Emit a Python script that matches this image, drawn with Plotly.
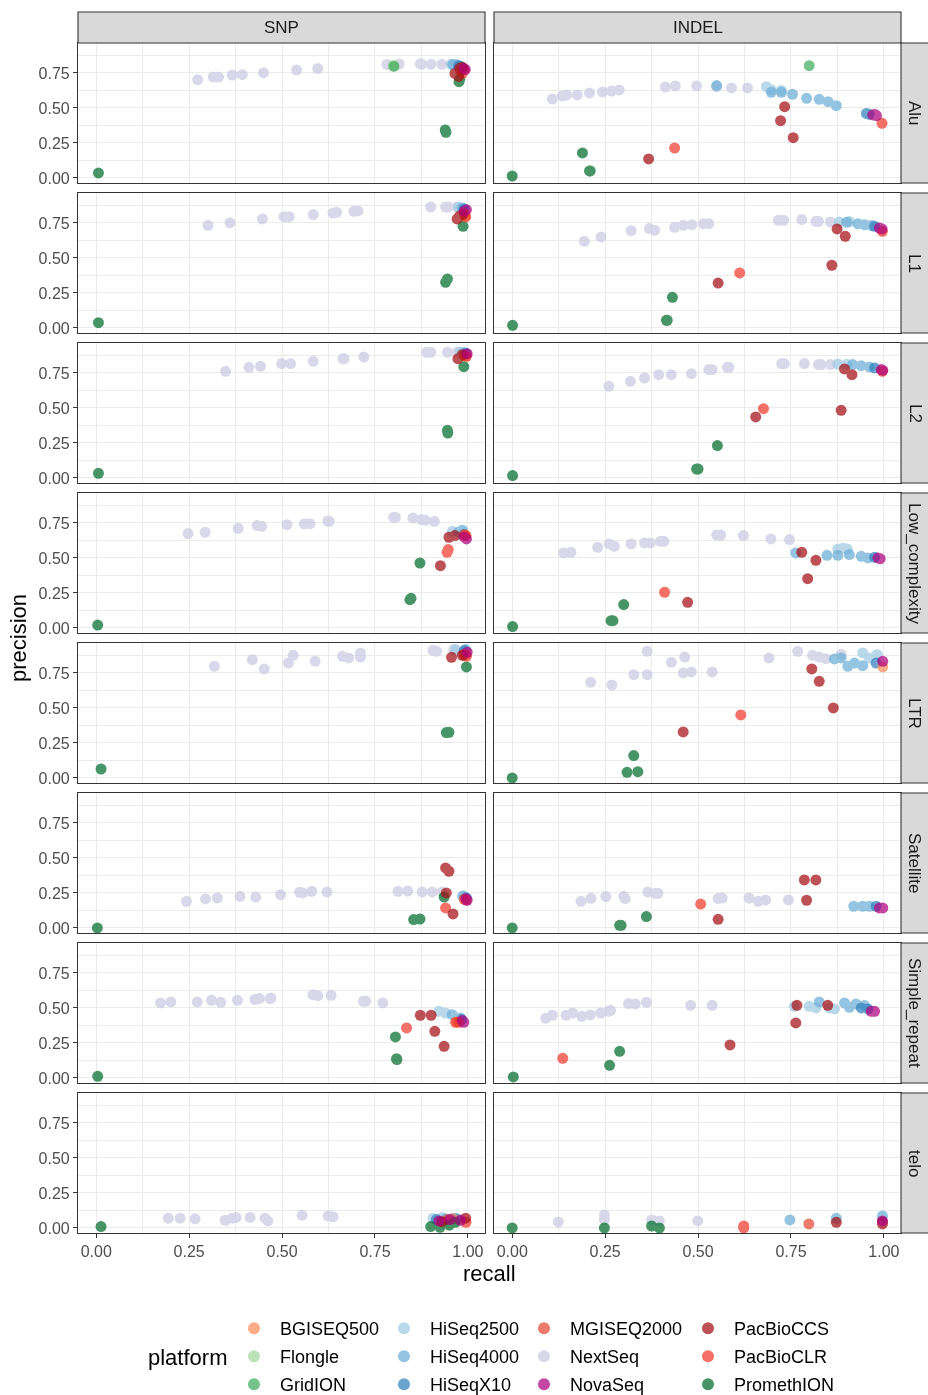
import plotly.graph_objects as go

# ---------------- data ----------------
TYPES = ["SNP", "INDEL"]
REGIONS = ["Alu", "L1", "L2", "Low_complexity", "LTR", "Satellite", "Simple_repeat", "telo"]
PLATFORMS = ["BGISEQ500", "Flongle", "GridION", "HiSeq2500", "HiSeq4000", "HiSeqX10",
             "MGISEQ2000", "NextSeq", "NovaSeq", "PacBioCCS", "PacBioCLR", "PromethION"]
COLORS = {
    "BGISEQ500": "#FC8D59", "Flongle": "#A1D99B", "GridION": "#41AB5D",
    "HiSeq2500": "#9ECAE1", "HiSeq4000": "#6BAED6", "HiSeqX10": "#3182BD",
    "MGISEQ2000": "#E34A33", "NextSeq": "#CBC9E2", "NovaSeq": "#AE017E",
    "PacBioCCS": "#A50F15", "PacBioCLR": "#EF3B2C", "PromethION": "#006D2C",
}
DRAW_ORDER = ["NextSeq", "HiSeq2500", "HiSeq4000", "HiSeqX10", "BGISEQ500", "MGISEQ2000",
              "Flongle", "GridION", "PromethION", "PacBioCLR", "PacBioCCS", "NovaSeq"]
TICK_VALS = [0, 0.25, 0.5, 0.75, 1.0]
TICK_TEXT = ["0.00", "0.25", "0.50", "0.75", "1.00"]

# each facet: platform -> (recall, precision)
SNP_ALU = {
    "NextSeq": ([0.273, 0.315, 0.329, 0.366, 0.393, 0.450, 0.539, 0.596, 0.782, 0.815, 0.872, 0.876, 0.901, 0.930],
                [0.702, 0.721, 0.721, 0.735, 0.738, 0.752, 0.771, 0.781, 0.811, 0.814, 0.815, 0.813, 0.812, 0.812]),
    "Flongle": ([0.800], [0.805]),
    "GridION": ([0.801], [0.797]),
    "PromethION": ([0.006, 0.939, 0.941, 0.976, 0.978], [0.036, 0.343, 0.326, 0.688, 0.705]),
    "HiSeq2500": ([0.955, 0.965, 0.972], [0.812, 0.810, 0.808]),
    "HiSeq4000": ([0.960, 0.970, 0.978], [0.810, 0.806, 0.800]),
    "HiSeqX10": ([0.975, 0.982], [0.800, 0.795]),
    "BGISEQ500": ([0.985], [0.770]),
    "MGISEQ2000": ([0.980, 0.988], [0.765, 0.775]),
    "PacBioCCS": ([0.965, 0.978, 0.985, 0.975], [0.747, 0.785, 0.790, 0.725]),
    "PacBioCLR": ([0.985, 0.990], [0.748, 0.770]),
    "NovaSeq": ([0.990, 0.993], [0.780, 0.775]),
}
SNP_L1 = {
    "NextSeq": ([0.301, 0.360, 0.447, 0.505, 0.519, 0.584, 0.637, 0.647, 0.693, 0.704, 0.900, 0.940, 0.947, 0.971],
                [0.733, 0.752, 0.779, 0.795, 0.795, 0.810, 0.821, 0.826, 0.833, 0.836, 0.864, 0.864, 0.864, 0.864]),
    "PromethION": ([0.006, 0.940, 0.945, 0.987], [0.038, 0.326, 0.350, 0.726]),
    "HiSeq2500": ([0.975], [0.862]),
    "HiSeq4000": ([0.985], [0.857]),
    "HiSeqX10": ([0.990], [0.850]),
    "MGISEQ2000": ([0.990], [0.820]),
    "BGISEQ500": ([0.993], [0.800]),
    "PacBioCCS": ([0.971, 0.985, 0.978], [0.779, 0.810, 0.800]),
    "PacBioCLR": ([0.994], [0.793]),
    "NovaSeq": ([0.996, 0.990], [0.845, 0.835]),
}
SNP_L2 = {
    "NextSeq": ([0.348, 0.411, 0.442, 0.499, 0.523, 0.584, 0.664, 0.667, 0.720, 0.889, 0.900, 0.945, 0.971],
                [0.762, 0.790, 0.798, 0.817, 0.817, 0.833, 0.852, 0.852, 0.864, 0.898, 0.898, 0.898, 0.898]),
    "PromethION": ([0.006, 0.945, 0.946, 0.989], [0.033, 0.340, 0.321, 0.795]),
    "HiSeq2500": ([0.980], [0.900]),
    "HiSeq4000": ([0.990], [0.895]),
    "HiSeqX10": ([0.995], [0.890]),
    "MGISEQ2000": ([0.990], [0.875]),
    "BGISEQ500": ([0.995], [0.870]),
    "PacBioCCS": ([0.973, 0.985], [0.852, 0.880]),
    "PacBioCLR": ([0.996], [0.869]),
    "NovaSeq": ([0.998], [0.888]),
}
SNP_LOW = {
    "NextSeq": ([0.247, 0.293, 0.382, 0.433, 0.445, 0.513, 0.560, 0.575, 0.623, 0.627, 0.800, 0.805, 0.852, 0.875, 0.886, 0.910],
                [0.674, 0.683, 0.712, 0.731, 0.726, 0.738, 0.743, 0.745, 0.764, 0.762, 0.790, 0.790, 0.786, 0.774, 0.769, 0.762]),
    "HiSeq2500": ([0.958], [0.690]),
    "HiSeq4000": ([0.975, 0.985], [0.686, 0.698]),
    "HiSeqX10": ([0.990], [0.670]),
    "MGISEQ2000": ([0.990], [0.665]),
    "BGISEQ500": ([0.995], [0.660]),
    "PromethION": ([0.004, 0.844, 0.847, 0.871], [0.021, 0.202, 0.212, 0.464]),
    "PacBioCLR": ([0.944, 0.947, 0.994], [0.540, 0.560, 0.660]),
    "PacBioCCS": ([0.949, 0.965, 0.926], [0.648, 0.660, 0.445]),
    "NovaSeq": ([0.996, 0.990], [0.636, 0.650]),
}
SNP_LTR = {
    "NextSeq": ([0.318, 0.420, 0.452, 0.517, 0.530, 0.589, 0.663, 0.679, 0.711, 0.711, 0.906, 0.916, 0.962],
                [0.798, 0.845, 0.779, 0.821, 0.876, 0.833, 0.869, 0.857, 0.893, 0.864, 0.912, 0.905, 0.917]),
    "HiSeq2500": ([0.967], [0.917]),
    "HiSeq4000": ([0.994], [0.917]),
    "HiSeqX10": ([0.990], [0.910]),
    "MGISEQ2000": ([0.990], [0.880]),
    "BGISEQ500": ([0.995], [0.885]),
    "PromethION": ([0.013, 0.942, 0.949, 0.996], [0.064, 0.324, 0.326, 0.793]),
    "PacBioCLR": ([0.996], [0.869]),
    "PacBioCCS": ([0.956, 0.985], [0.862, 0.876]),
    "NovaSeq": ([0.998], [0.898]),
}
SNP_SAT = {
    "NextSeq": ([0.243, 0.294, 0.326, 0.387, 0.429, 0.496, 0.547, 0.556, 0.580, 0.621, 0.812, 0.838, 0.877, 0.904, 0.931],
                [0.190, 0.207, 0.214, 0.226, 0.221, 0.238, 0.255, 0.250, 0.262, 0.257, 0.262, 0.264, 0.257, 0.257, 0.257]),
    "HiSeq2500": ([0.985], [0.230]),
    "HiSeq4000": ([0.989], [0.226]),
    "HiSeqX10": ([0.996], [0.214]),
    "MGISEQ2000": ([0.990], [0.205]),
    "PromethION": ([0.003, 0.854, 0.871, 0.936], [0.000, 0.060, 0.064, 0.221]),
    "PacBioCLR": ([0.940, 0.995], [0.143, 0.200]),
    "PacBioCCS": ([0.940, 0.949, 0.942, 0.960], [0.429, 0.405, 0.250, 0.100]),
    "NovaSeq": ([0.998, 0.995], [0.198, 0.210]),
}
SNP_SR = {
    "NextSeq": ([0.173, 0.201, 0.272, 0.310, 0.335, 0.380, 0.427, 0.439, 0.468, 0.470, 0.583, 0.596, 0.632, 0.719, 0.725, 0.771],
                [0.536, 0.543, 0.543, 0.555, 0.540, 0.555, 0.560, 0.567, 0.567, 0.571, 0.595, 0.588, 0.590, 0.548, 0.548, 0.536]),
    "HiSeq2500": ([0.922, 0.940], [0.476, 0.464]),
    "HiSeq4000": ([0.958, 0.980], [0.452, 0.429]),
    "HiSeqX10": ([0.983], [0.417]),
    "BGISEQ500": ([0.970], [0.400]),
    "MGISEQ2000": ([0.976], [0.398]),
    "PromethION": ([0.004, 0.805, 0.808, 0.809], [0.012, 0.293, 0.138, 0.131]),
    "PacBioCLR": ([0.835, 0.967], [0.357, 0.398]),
    "PacBioCCS": ([0.872, 0.901, 0.911, 0.936], [0.448, 0.448, 0.333, 0.226]),
    "NovaSeq": ([0.989, 0.985], [0.398, 0.410]),
}
SNP_TELO = {
    "NextSeq": ([0.194, 0.226, 0.266, 0.347, 0.366, 0.376, 0.414, 0.454, 0.462, 0.554, 0.624, 0.637],
                [0.070, 0.070, 0.065, 0.055, 0.070, 0.075, 0.075, 0.070, 0.050, 0.090, 0.085, 0.080]),
    "HiSeq2500": ([0.906, 0.930], [0.070, 0.075]),
    "HiSeq4000": ([0.940, 0.960], [0.065, 0.070]),
    "HiSeqX10": ([0.915, 0.970], [0.060, 0.065]),
    "BGISEQ500": ([0.960], [0.065]),
    "MGISEQ2000": ([0.945], [0.060]),
    "PromethION": ([0.013, 0.900, 0.925, 0.966, 0.950], [0.010, 0.010, 0.005, 0.040, 0.020]),
    "PacBioCLR": ([0.995], [0.040]),
    "PacBioCCS": ([0.994, 0.930], [0.070, 0.045]),
    "NovaSeq": ([0.922, 0.952, 0.980], [0.050, 0.060, 0.055]),
}
INDEL_ALU = {
    "NextSeq": ([0.108, 0.135, 0.146, 0.175, 0.208, 0.243, 0.267, 0.288, 0.412, 0.439, 0.496, 0.550, 0.590, 0.633],
                [0.564, 0.586, 0.593, 0.593, 0.607, 0.614, 0.621, 0.629, 0.650, 0.657, 0.657, 0.650, 0.643, 0.643]),
    "HiSeq2500": ([0.684, 0.697, 0.724], [0.652, 0.630, 0.625]),
    "HiSeq4000": ([0.550, 0.697, 0.724, 0.754, 0.792, 0.826, 0.850, 0.872], [0.660, 0.612, 0.612, 0.598, 0.569, 0.562, 0.545, 0.516]),
    "HiSeqX10": ([0.953, 0.960], [0.461, 0.455]),
    "GridION": ([0.799], [0.802]),
    "PromethION": ([0.000, 0.189, 0.208, 0.210], [0.014, 0.179, 0.050, 0.050]),
    "PacBioCLR": ([0.437, 0.995], [0.214, 0.390]),
    "PacBioCCS": ([0.733, 0.722, 0.756, 0.367], [0.509, 0.409, 0.288, 0.136]),
    "NovaSeq": ([0.976, 0.970, 0.980], [0.454, 0.450, 0.445]),
}
INDEL_L1 = {
    "NextSeq": ([0.194, 0.239, 0.320, 0.369, 0.383, 0.437, 0.460, 0.483, 0.514, 0.529, 0.716, 0.730, 0.779, 0.817, 0.824, 0.856],
                [0.619, 0.650, 0.695, 0.710, 0.698, 0.719, 0.733, 0.738, 0.745, 0.745, 0.769, 0.769, 0.774, 0.762, 0.762, 0.757]),
    "HiSeq2500": ([0.880, 0.907], [0.757, 0.760]),
    "HiSeq4000": ([0.900, 0.930, 0.948, 0.966], [0.755, 0.745, 0.738, 0.731]),
    "HiSeqX10": ([0.975], [0.726]),
    "PromethION": ([0.001, 0.431, 0.415, 0.417], [0.019, 0.219, 0.055, 0.055]),
    "PacBioCLR": ([0.996, 0.612], [0.690, 0.393]),
    "PacBioCCS": ([0.874, 0.896, 0.860, 0.554], [0.707, 0.655, 0.448, 0.321]),
    "NovaSeq": ([0.988, 0.995], [0.714, 0.707]),
}
INDEL_L2 = {
    "NextSeq": ([0.260, 0.318, 0.356, 0.394, 0.428, 0.482, 0.529, 0.538, 0.579, 0.583, 0.725, 0.732, 0.786, 0.824, 0.831, 0.856],
                [0.655, 0.690, 0.714, 0.738, 0.738, 0.745, 0.774, 0.774, 0.790, 0.790, 0.817, 0.817, 0.817, 0.810, 0.810, 0.810]),
    "HiSeq2500": ([0.876, 0.900], [0.814, 0.812]),
    "HiSeq4000": ([0.916, 0.939, 0.961], [0.810, 0.802, 0.793]),
    "HiSeqX10": ([0.975], [0.786]),
    "PromethION": ([0.001, 0.552, 0.496, 0.500], [0.017, 0.231, 0.064, 0.064]),
    "PacBioCLR": ([0.676, 0.996], [0.495, 0.762]),
    "PacBioCCS": ([0.894, 0.914, 0.885, 0.655], [0.779, 0.738, 0.483, 0.436]),
    "NovaSeq": ([0.993, 0.997], [0.774, 0.770]),
}
INDEL_LOW = {
    "NextSeq": ([0.138, 0.158, 0.230, 0.261, 0.275, 0.320, 0.356, 0.372, 0.399, 0.408, 0.550, 0.561, 0.622, 0.696, 0.746],
                [0.536, 0.540, 0.576, 0.600, 0.583, 0.600, 0.607, 0.607, 0.619, 0.619, 0.664, 0.664, 0.660, 0.636, 0.631]),
    "HiSeq2500": ([0.876, 0.901, 0.890], [0.564, 0.564, 0.570]),
    "HiSeq4000": ([0.763, 0.847, 0.876, 0.907, 0.939, 0.957], [0.536, 0.519, 0.519, 0.524, 0.512, 0.500]),
    "HiSeqX10": ([0.975], [0.505]),
    "PromethION": ([0.001, 0.300, 0.266, 0.271], [0.010, 0.167, 0.052, 0.052]),
    "PacBioCLR": ([0.410], [0.255]),
    "PacBioCCS": ([0.779, 0.817, 0.795, 0.472], [0.540, 0.483, 0.352, 0.183]),
    "NovaSeq": ([0.984, 0.990], [0.500, 0.495]),
}
INDEL_LTR = {
    "NextSeq": ([0.211, 0.268, 0.327, 0.363, 0.363, 0.428, 0.460, 0.464, 0.482, 0.538, 0.691, 0.768, 0.808, 0.826, 0.844, 0.885],
                [0.683, 0.664, 0.738, 0.738, 0.905, 0.826, 0.750, 0.864, 0.757, 0.757, 0.857, 0.905, 0.876, 0.864, 0.852, 0.883]),
    "HiSeq2500": ([0.943, 0.961, 0.982], [0.893, 0.857, 0.881]),
    "HiSeq4000": ([0.867, 0.885, 0.903, 0.921, 0.943], [0.850, 0.857, 0.798, 0.821, 0.802]),
    "HiSeqX10": ([0.979], [0.821]),
    "BGISEQ500": ([0.997], [0.793]),
    "PromethION": ([0.000, 0.327, 0.309, 0.338], [0.000, 0.160, 0.040, 0.045]),
    "PacBioCLR": ([0.615], [0.450]),
    "PacBioCCS": ([0.806, 0.826, 0.864, 0.460], [0.779, 0.690, 0.500, 0.329]),
    "NovaSeq": ([0.997], [0.833]),
}
INDEL_SAT = {
    "NextSeq": ([0.185, 0.212, 0.252, 0.300, 0.304, 0.365, 0.385, 0.392, 0.554, 0.565, 0.637, 0.662, 0.682, 0.743],
                [0.190, 0.212, 0.224, 0.226, 0.210, 0.257, 0.248, 0.248, 0.210, 0.214, 0.214, 0.190, 0.200, 0.200]),
    "HiSeq4000": ([0.919, 0.943, 0.961], [0.155, 0.155, 0.155]),
    "HiSeqX10": ([0.979], [0.155]),
    "PromethION": ([0.000, 0.361, 0.289, 0.293], [0.000, 0.081, 0.019, 0.019]),
    "PacBioCLR": ([0.507], [0.171]),
    "PacBioCCS": ([0.786, 0.817, 0.792, 0.554], [0.343, 0.343, 0.198, 0.062]),
    "NovaSeq": ([0.988, 0.997], [0.143, 0.143]),
}
INDEL_SR = {
    "NextSeq": ([0.090, 0.108, 0.145, 0.163, 0.187, 0.210, 0.238, 0.259, 0.265, 0.313, 0.331, 0.361, 0.480, 0.538],
                [0.426, 0.448, 0.448, 0.464, 0.440, 0.450, 0.464, 0.476, 0.483, 0.531, 0.529, 0.540, 0.519, 0.519]),
    "HiSeq2500": ([0.759, 0.799, 0.817, 0.853, 0.867], [0.512, 0.512, 0.500, 0.500, 0.493]),
    "HiSeq4000": ([0.826, 0.894, 0.907, 0.925, 0.948], [0.543, 0.536, 0.505, 0.529, 0.517]),
    "HiSeqX10": ([0.939, 0.957], [0.500, 0.493]),
    "PromethION": ([0.003, 0.289, 0.262], [0.007, 0.190, 0.090]),
    "PacBioCLR": ([0.136], [0.140]),
    "PacBioCCS": ([0.766, 0.849, 0.763, 0.586], [0.519, 0.519, 0.393, 0.236]),
    "NovaSeq": ([0.966, 0.975], [0.476, 0.476]),
}
INDEL_TELO = {
    "NextSeq": ([0.124, 0.248, 0.248, 0.375, 0.396, 0.499], [0.043, 0.093, 0.057, 0.057, 0.050, 0.050]),
    "HiSeq4000": ([0.747, 0.872, 0.996], [0.057, 0.069, 0.086]),
    "MGISEQ2000": ([0.798], [0.029]),
    "PromethION": ([0.000, 0.248, 0.375, 0.396], [0.000, 0.000, 0.014, 0.000]),
    "PacBioCLR": ([0.623, 0.623], [0.014, 0.000]),
    "PacBioCCS": ([0.872, 0.996, 0.996], [0.040, 0.043, 0.029]),
    "NovaSeq": ([0.996], [0.050]),
}

FACETS = {
    ("SNP", "Alu"): SNP_ALU, ("SNP", "L1"): SNP_L1, ("SNP", "L2"): SNP_L2,
    ("SNP", "Low_complexity"): SNP_LOW, ("SNP", "LTR"): SNP_LTR, ("SNP", "Satellite"): SNP_SAT,
    ("SNP", "Simple_repeat"): SNP_SR, ("SNP", "telo"): SNP_TELO,
    ("INDEL", "Alu"): INDEL_ALU, ("INDEL", "L1"): INDEL_L1, ("INDEL", "L2"): INDEL_L2,
    ("INDEL", "Low_complexity"): INDEL_LOW, ("INDEL", "LTR"): INDEL_LTR, ("INDEL", "Satellite"): INDEL_SAT,
    ("INDEL", "Simple_repeat"): INDEL_SR, ("INDEL", "telo"): INDEL_TELO,
}

# ---------------- layout geometry (pixels) ----------------
W, H = 928, 1395
COL_X = [(78, 485), (494, 901)]
ROW_TOP0, ROW_H, ROW_STEP = 43, 140, 150
STRIP_TOP = 12
STRIP_RIGHT = (901, 930)
FONT = "Liberation Sans, Arial, sans-serif"

def px(x):
    return x / W

def py(y):
    return 1 - y / H

LEGEND_OF = {}
for i, p in enumerate(PLATFORMS):
    LEGEND_OF[p] = ["legend", "legend2", "legend3", "legend4"][i // 3]

fig = go.Figure()
layout = {}
shown = set()
for c, t in enumerate(TYPES):
    for r, reg in enumerate(REGIONS):
        n = r * 2 + c + 1
        xa = "x" if n == 1 else f"x{n}"
        ya = "y" if n == 1 else f"y{n}"
        facet = FACETS[(t, reg)]
        for p in DRAW_ORDER:
            if p not in facet:
                continue
            xs, ys = facet[p]
            show = p not in shown
            shown.add(p)
            fig.add_trace(go.Scatter(
                x=xs, y=ys, mode="markers", name=p, legendgroup=p,
                legend=LEGEND_OF[p], legendrank=PLATFORMS.index(p) + 1,
                showlegend=show, xaxis=xa, yaxis=ya, opacity=0.72,
                marker=dict(color=COLORS[p], size=11, line=dict(width=0)),
                hovertemplate=f"{p}<br>recall=%{{x:.3f}}<br>precision=%{{y:.3f}}<extra></extra>",
            ))
        top = ROW_TOP0 + r * ROW_STEP
        bottom = top + ROW_H
        x0, x1 = COL_X[c]
        common = dict(
            showline=True, mirror=True, linecolor="#333333", linewidth=1.1,
            showgrid=True, gridcolor="#EBEBEB", gridwidth=1.1, zeroline=False,
            tickvals=TICK_VALS, ticktext=TICK_TEXT,
            tickfont=dict(family=FONT, size=16, color="#4D4D4D"),
            ticklen=4, tickwidth=1.1, tickcolor="#333333",
            minor=dict(tickvals=[0.125, 0.375, 0.625, 0.875], showgrid=True,
                       gridcolor="#EBEBEB", gridwidth=0.55),
        )
        xkey = "xaxis" if n == 1 else f"xaxis{n}"
        ykey = "yaxis" if n == 1 else f"yaxis{n}"
        bottom_row = r == len(REGIONS) - 1
        left_col = c == 0
        layout[xkey] = dict(common, domain=[px(x0), px(x1)], anchor=ya,
                            range=[-0.049, 1.046],
                            ticks="outside" if bottom_row else "",
                            showticklabels=bottom_row)
        layout[ykey] = dict(common, domain=[py(bottom), py(top)], anchor=xa,
                            range=[-0.036, 0.964],
                            ticks="outside" if left_col else "",
                            showticklabels=left_col)

shapes = []
annotations = []
# top strips
for c, t in enumerate(TYPES):
    x0, x1 = COL_X[c]
    shapes.append(dict(type="rect", xref="paper", yref="paper", x0=px(x0), x1=px(x1),
                       y0=py(ROW_TOP0), y1=py(STRIP_TOP), fillcolor="#D9D9D9",
                       line=dict(color="#333333", width=1.1), layer="above"))
    annotations.append(dict(text=t, xref="paper", yref="paper", x=px((x0 + x1) / 2),
                            y=py((ROW_TOP0 + STRIP_TOP) / 2), showarrow=False,
                            font=dict(family=FONT, size=17, color="#1A1A1A"),
                            xanchor="center", yanchor="middle"))
# right strips
for r, reg in enumerate(REGIONS):
    top = ROW_TOP0 + r * ROW_STEP
    bottom = top + ROW_H
    shapes.append(dict(type="rect", xref="paper", yref="paper", x0=px(STRIP_RIGHT[0]),
                       x1=px(STRIP_RIGHT[1]), y0=py(bottom), y1=py(top), fillcolor="#D9D9D9",
                       line=dict(color="#333333", width=1.1), layer="above"))
    annotations.append(dict(text=reg, xref="paper", yref="paper", x=px(915),
                            y=py((top + bottom) / 2), showarrow=False, textangle=90,
                            font=dict(family=FONT, size=17, color="#1A1A1A"),
                            xanchor="center", yanchor="middle"))
# axis titles
annotations.append(dict(text="recall", xref="paper", yref="paper", x=px(489.5), y=py(1273),
                        showarrow=False, font=dict(family=FONT, size=22, color="#000000"),
                        xanchor="center", yanchor="middle"))
annotations.append(dict(text="precision", xref="paper", yref="paper", x=px(18), y=py(638),
                        showarrow=False, textangle=-90,
                        font=dict(family=FONT, size=22, color="#000000"),
                        xanchor="center", yanchor="middle"))
annotations.append(dict(text="platform", xref="paper", yref="paper", x=px(187), y=py(1357),
                        showarrow=False, font=dict(family=FONT, size=22, color="#000000"),
                        xanchor="center", yanchor="middle"))

legend_common = dict(orientation="v", yanchor="top", xanchor="left", y=py(1310),
                     bgcolor="rgba(0,0,0,0)", font=dict(family=FONT, size=18, color="#000000"),
                     tracegroupgap=1.6, itemsizing="constant", traceorder="grouped",
                     itemwidth=42)
layout["legend"] = dict(legend_common, x=px(228))
layout["legend2"] = dict(legend_common, x=px(378))
layout["legend3"] = dict(legend_common, x=px(518))
layout["legend4"] = dict(legend_common, x=px(682))

fig.update_layout(
    width=W, height=H, margin=dict(l=0, r=0, t=0, b=0, autoexpand=False),
    paper_bgcolor="white", plot_bgcolor="white",
    font=dict(family=FONT),
    shapes=shapes, annotations=annotations, **layout,
)
fig.write_html("out.html")
